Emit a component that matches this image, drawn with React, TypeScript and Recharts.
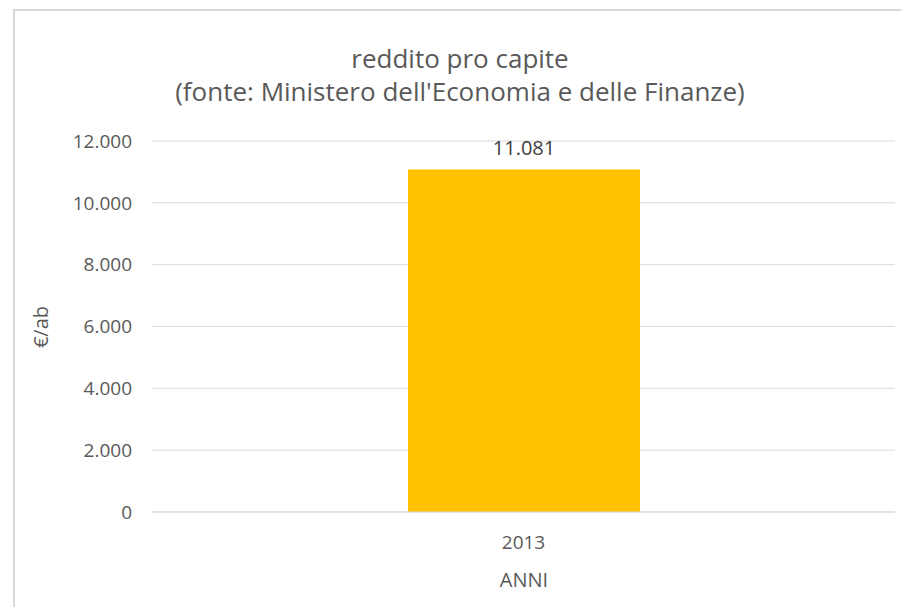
import { BarChart, Bar, XAxis, YAxis, CartesianGrid, LabelList } from "recharts";

const anni = ["2013"];
const reddito = [11081];
const yTicks = [0, 2000, 4000, 6000, 8000, 10000, 12000];

const data = anni.map((anno, i) => ({ anno, valore: reddito[i] }));

const fmt = (v: number) => String(v).replace(/\B(?=(\d{3})+(?!\d))/g, ".");

const FONT = "'Open Sans', 'Noto Sans', sans-serif";
const TEXT = "#595959";

export default function App() {
  return (
    <div style={{ position: "fixed", left: 0, top: 0, width: 901, height: 607, background: "#fff", fontFamily: FONT }}>
      <div
        style={{
          position: "absolute",
          left: 13,
          top: 9,
          width: 900,
          height: 610,
          border: "2px solid #d9d9d9",
          boxSizing: "border-box",
        }}
      />
      <div style={{ position: "absolute", left: 0, width: 920, top: 42, textAlign: "center", color: TEXT, fontSize: 26, lineHeight: "33px" }}>
        <div>reddito pro capite</div>
        <div>(fonte: Ministero dell'Economia e delle Finanze)</div>
      </div>
      <div
        style={{
          position: "absolute",
          left: 40,
          top: 327,
          transform: "translate(-50%, -50%) rotate(-90deg)",
          color: TEXT,
          fontSize: 20,
          whiteSpace: "nowrap",
        }}
      >
        €/ab
      </div>
      <div style={{ position: "absolute", left: 524, top: 579, transform: "translate(-50%, -50%)", color: TEXT, fontSize: 20 }}>
        ANNI
      </div>
      <div style={{ position: "absolute", left: 0, top: 0 }}>
        <BarChart width={901} height={607} data={data} margin={{ top: 141, right: 6, bottom: 65, left: 92 }}>
          <CartesianGrid vertical={false} stroke="#d9d9d9" />
          <XAxis
            dataKey="anno"
            height={30}
            axisLine={{ stroke: "#d9d9d9" }}
            tickLine={false}
            tickMargin={18}
            tick={{ fill: TEXT, fontSize: 19, fontFamily: FONT }}
          />
          <YAxis
            width={60}
            domain={[0, 12000]}
            ticks={yTicks}
            tickFormatter={fmt}
            axisLine={false}
            tickLine={false}
            tickSize={0}
            tickMargin={20}
            tick={{ fill: TEXT, fontSize: 19, fontFamily: FONT }}
          />
          <Bar dataKey="valore" fill="#ffc000" barSize={232} isAnimationActive={false}>
            <LabelList dataKey="valore" position="top" offset={14} formatter={(v: number) => fmt(v)} fill="#404040" fontSize={20} fontFamily={FONT} />
          </Bar>
        </BarChart>
      </div>
    </div>
  );
}
